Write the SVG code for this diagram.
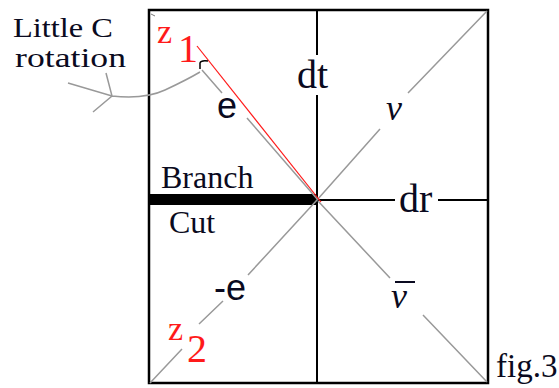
<svg xmlns="http://www.w3.org/2000/svg" width="559" height="388" viewBox="0 0 559 388">
<style>
.g{stroke:#999;stroke-width:1.5;fill:none}
.k{stroke:#000;stroke-width:2;fill:none}
</style>
<rect width="559" height="388" fill="#fff"/>
<g id="frame">
<rect x="149" y="10" width="339" height="373" fill="none" stroke="#000" stroke-width="2.5"/>
<path d="M151,14 L155,16" stroke="#777" stroke-width="1"/>
</g>
<g id="connectors">
<line class="k" x1="317" y1="10" x2="317" y2="55"/>
<line class="k" x1="317" y1="95" x2="317" y2="383"/>
<line class="k" x1="317" y1="200" x2="395" y2="200"/>
<line class="k" x1="438" y1="200" x2="488" y2="200"/>
<rect x="149" y="194" width="169" height="11" fill="#000"/>
<path class="g" d="M317,200 L380,129 M408,93 L487,11"/>
<path class="g" d="M318,201 L390,278 M423,315 L487,382"/>
<path class="g" d="M317,200 L248,275 M223,301 L199,324 M182,349 L150,383"/>
<path class="g" d="M202,70 L222,93 M247,118 L318,200"/>
<line x1="197" y1="46" x2="321" y2="202" stroke="#ff1a1a" stroke-width="1.2"/>
<path class="g" d="M68,83 L112,96 C130,98 150,97 165,90 S190,78 200,72 M106,73 L112,96 L93,112"/>
<path d="M200,69 L200,63 Q201,60 208,61" stroke="#000" stroke-width="1.5" fill="none"/>
</g>
<g id="label-little-c" font-family="Liberation Serif, serif" fill="#0a0a20">
<text x="13" y="37" font-size="27" textLength="100" lengthAdjust="spacingAndGlyphs">Little C</text>
<text x="15" y="67" font-size="27" textLength="111" lengthAdjust="spacingAndGlyphs">rotation</text>
</g>
<g id="z1" font-family="Liberation Serif, serif" fill="#ff1a1a"><text x="157" y="43" font-size="34">z<tspan x="178" y="62" font-size="40">1</tspan></text></g>
<g id="z2" font-family="Liberation Serif, serif" fill="#ff1a1a"><text x="168" y="340" font-size="34">z<tspan x="187" y="362" font-size="40">2</tspan></text></g>
<g id="e" font-family="Liberation Sans, sans-serif" fill="#0a0a20"><text x="217" y="118" font-size="36">e</text></g>
<g id="minus-e" font-family="Liberation Sans, sans-serif" fill="#0a0a20"><text x="214" y="300" font-size="36">-e</text></g>
<g id="dt" font-family="Liberation Serif, serif" fill="#0a0a20"><text x="297" y="88" font-size="40">dt</text></g>
<g id="dr" font-family="Liberation Serif, serif" fill="#0a0a20"><text x="399" y="212" font-size="40">dr</text></g>
<g id="nu" font-family="Liberation Serif, serif" fill="#0a0a20"><text x="386" y="120" font-size="36" font-style="italic">ν</text></g>
<g id="nubar" font-family="Liberation Serif, serif" fill="#0a0a20"><text x="391" y="308" font-size="36" font-style="italic">ν</text>
<line x1="395" y1="282" x2="415" y2="282" stroke="#0a0a20" stroke-width="2"/></g>
<g id="branch-cut" font-family="Liberation Serif, serif" fill="#0a0a20">
<text x="161" y="188" font-size="32">Branch</text>
<text x="169" y="233" font-size="32">Cut</text>
</g>
<g id="fig" font-family="Liberation Serif, serif" fill="#0a0a20"><text x="496" y="377" font-size="33">fig.3</text></g>
</svg>
